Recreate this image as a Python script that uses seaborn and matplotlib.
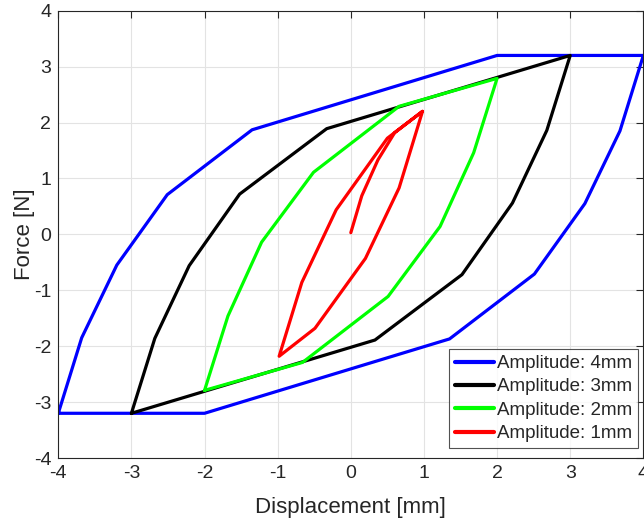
import numpy as np
import pandas as pd
import seaborn as sns
import matplotlib
matplotlib.use("Agg")
import matplotlib.pyplot as plt

# ---- data ----
labels = ["Amplitude: 4mm", "Amplitude: 3mm", "Amplitude: 2mm", "Amplitude: 1mm"]
colors = ["#0000ff", "#000000", "#00ff00", "#ff0000"]

x_4mm = [-4.0, -3.68, -3.2, -2.51, -1.35, 2.0, 4.0, 3.68, 3.2, 2.51, 1.35, -2.0, -4.0]
y_4mm = [-3.2, -1.85, -0.55, 0.71, 1.87, 3.2, 3.2, 1.85, 0.55, -0.71, -1.87, -3.2, -3.2]

x_3mm = [-3.0, -2.68, -2.21, -1.52, -0.33, 3.0, 2.68, 2.21, 1.52, 0.33, -3.0]
y_3mm = [-3.2, -1.86, -0.56, 0.72, 1.89, 3.2, 1.86, 0.56, -0.72, -1.89, -3.2]

x_2mm = [-2.0, -1.68, -1.22, -0.51, 0.66, 2.0, 1.68, 1.22, 0.51, -0.66, -2.0]
y_2mm = [-2.79, -1.46, -0.14, 1.11, 2.29, 2.79, 1.46, 0.14, -1.11, -2.29, -2.79]

x_1mm = [0.0, 0.15, 0.37, 0.6, 0.98, 0.66, 0.2, -0.49, -0.98, -0.67, -0.2, 0.5, 0.98]
y_1mm = [0.03, 0.69, 1.33, 1.82, 2.2, 0.83, -0.43, -1.68, -2.18, -0.86, 0.44, 1.72, 2.2]

xs = [x_4mm, x_3mm, x_2mm, x_1mm]
ys = [y_4mm, y_3mm, y_2mm, y_1mm]

frames = []
for lab, xv, yv in zip(labels, xs, ys):
    frames.append(pd.DataFrame({"x": xv, "y": yv, "series": lab, "order": np.arange(len(xv))}))
df = pd.concat(frames, ignore_index=True)

sns.set_style("white")
plt.rcParams["font.family"] = ["Liberation Sans", "DejaVu Sans"]
plt.rcParams["axes.unicode_minus"] = False

fig = plt.figure(figsize=(6.44, 5.25), dpi=100)
ax = fig.add_axes([0.0905, 0.1276, 0.9085, 0.852])

sns.lineplot(data=df, x="x", y="y", hue="series", hue_order=labels,
             palette=dict(zip(labels, colors)), sort=False, estimator=None,
             units="series", linewidth=2.3, ax=ax, legend=True)

ax.set_xlim(-4, 4)
ax.set_ylim(-4, 4)
ax.set_xticks(range(-4, 5))
ax.set_yticks(range(-4, 5))
ax.grid(True, color="#e3e3e3", linewidth=0.8)
ax.set_axisbelow(True)

edge = "#262626"
for s in ax.spines.values():
    s.set_visible(True)
    s.set_color(edge)
    s.set_linewidth(0.8)
ax.tick_params(direction="in", length=5, width=0.8, color=edge, labelcolor=edge,
               labelsize=14, top=True, right=True, pad=5)
ax.set_xlabel("Displacement [mm]", fontsize=16, color=edge, labelpad=11)
ax.set_ylabel("Force [N]", fontsize=16, color=edge, labelpad=-1)

leg = ax.legend(loc="lower right", bbox_to_anchor=(0.9905, 0.023), fontsize=13.5,
                frameon=True, fancybox=False, handlelength=2.1, handletextpad=0.15,
                borderpad=0.3, labelspacing=0.33, borderaxespad=0)
leg.get_frame().set_edgecolor(edge)
leg.get_frame().set_linewidth(0.8)
for ln in leg.get_lines():
    ln.set_linewidth(3)

fig.savefig("out.png", dpi=100)
